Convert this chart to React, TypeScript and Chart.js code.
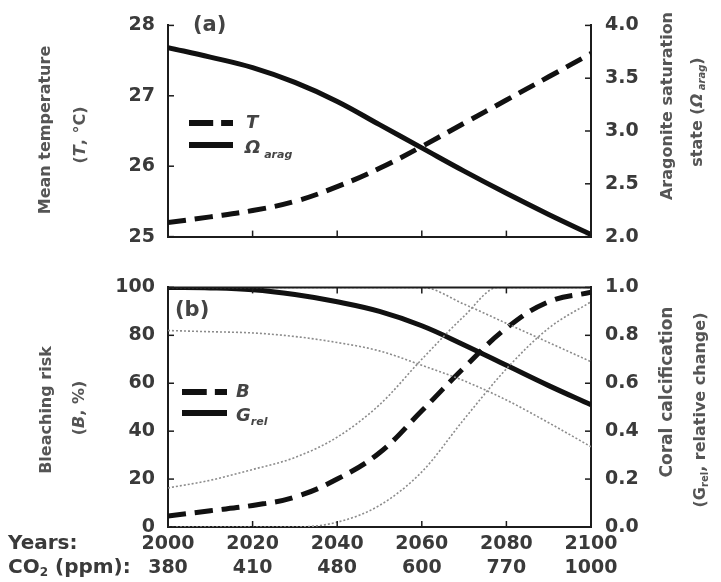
import { useEffect, useRef } from 'react';
import { Chart, registerables } from 'chart.js';

Chart.register(...registerables);

// ---------------- data ----------------
const years = [2000, 2010, 2020, 2030, 2040, 2050, 2060, 2070, 2080, 2090, 2100];
const temperature = [25.2, 25.28, 25.37, 25.5, 25.71, 25.97, 26.28, 26.61, 26.94, 27.27, 27.6];
const aragonite = [3.79, 3.7, 3.6, 3.46, 3.28, 3.06, 2.84, 2.62, 2.41, 2.21, 2.02];

const bleaching = [4.6, 6.8, 9, 12.5, 20, 31, 48.5, 66.5, 83, 94, 98];
const calcification = [1.0, 0.998, 0.99, 0.97, 0.94, 0.9, 0.84, 0.76, 0.675, 0.59, 0.51];

const bleachUpperYears = [2000, 2010, 2020, 2030, 2040, 2050, 2060, 2070, 2078, 2090, 2100];
const bleachUpper = [16.3, 19.5, 24, 29, 37.5, 51, 70, 88, 100, 100, 100];
const bleachLowerYears = [2000, 2020, 2030, 2040, 2050, 2060, 2070, 2080, 2090, 2100];
const bleachLower = [0, 0, 0, 2, 9, 23, 45, 66, 83, 94];
const calcUpperYears = [2000, 2030, 2060, 2070, 2080, 2090, 2100];
const calcUpper = [1.0, 1.0, 1.0, 0.93, 0.85, 0.77, 0.69];
const calcLower = [0.82, 0.815, 0.81, 0.795, 0.77, 0.735, 0.675, 0.61, 0.53, 0.435, 0.335];

const yearTicks = [2000, 2020, 2040, 2060, 2080, 2100];
const co2Ticks = [380, 410, 480, 600, 770, 1000];

// ---------------- styling helpers ----------------
const FONT = '"DejaVu Sans", "Liberation Sans", sans-serif';
const TICK_COLOR = '#3a3a3a';
const TITLE_COLOR = '#555555';
const LINE = '#111111';
const THIN = '#8c8c8c';
const AXIS = '#1c1c1c';

type Seg = { t: string; size: number; italic?: boolean; dy?: number };

function segFont(s: Seg) {
  return `${s.italic ? 'italic ' : ''}bold ${s.size}px ${FONT}`;
}

function drawRich(
  ctx: CanvasRenderingContext2D,
  segs: Seg[],
  cx: number,
  cy: number,
  rot: number,
  color: string,
  align: 'center' | 'left' = 'center'
) {
  ctx.save();
  ctx.translate(cx, cy);
  if (rot) ctx.rotate(rot);
  ctx.fillStyle = color;
  ctx.textBaseline = 'middle';
  ctx.textAlign = 'left';
  let w = 0;
  const ws = segs.map((s) => {
    ctx.font = segFont(s);
    const m = ctx.measureText(s.t).width;
    w += m;
    return m;
  });
  let x = align === 'center' ? -w / 2 : 0;
  segs.forEach((s, i) => {
    ctx.font = segFont(s);
    ctx.fillText(s.t, x, s.dy || 0);
    x += ws[i];
  });
  ctx.restore();
}

function line(ctx: CanvasRenderingContext2D, x1: number, y1: number, x2: number, y2: number) {
  ctx.beginPath();
  ctx.moveTo(x1, y1);
  ctx.lineTo(x2, y2);
  ctx.stroke();
}

const inwardTicks = {
  id: 'inwardTicks',
  afterDraw(chart: any, _args: any, opts: any) {
    const ctx = chart.ctx as CanvasRenderingContext2D;
    const a = chart.chartArea;
    const L = 6;
    ctx.save();
    ctx.strokeStyle = AXIS;
    ctx.lineWidth = 1.5;
    const xs = chart.scales.x;
    xs.ticks.forEach((t: any) => {
      const px = xs.getPixelForValue(t.value);
      line(ctx, px, a.bottom, px, a.bottom - L);
      if (opts && opts.top) line(ctx, px, a.top, px, a.top + L);
    });
    const yl = chart.scales.y;
    yl.ticks.forEach((t: any) => {
      const py = yl.getPixelForValue(t.value);
      line(ctx, a.left, py, a.left + L, py);
    });
    const yr = chart.scales.y1;
    yr.ticks.forEach((t: any) => {
      const py = yr.getPixelForValue(t.value);
      line(ctx, a.right, py, a.right - L, py);
    });
    if (opts && opts.top) {
      ctx.lineWidth = 2;
      line(ctx, a.left - 1, a.top, a.right + 1, a.top);
    }
    ctx.restore();
  },
};

function makeDecor(draw: (ctx: CanvasRenderingContext2D, chart: any) => void) {
  return {
    id: 'decor',
    afterDraw(chart: any) {
      draw(chart.ctx, chart);
    },
  };
}

function legendLines(ctx: CanvasRenderingContext2D, x1: number, x2: number, yDash: number, ySolid: number) {
  ctx.save();
  ctx.strokeStyle = LINE;
  ctx.lineWidth = 6;
  ctx.lineCap = 'butt';
  const len = x2 - x1;
  line(ctx, x1, yDash, x1 + len * 0.55, yDash);
  line(ctx, x1 + len * 0.73, yDash, x2, yDash);
  line(ctx, x1, ySolid, x2, ySolid);
  ctx.restore();
}

const pts = (xs: number[], ys: number[]) => xs.map((x, i) => ({ x, y: ys[i] }));

function yAxis(min: number, max: number, step: number, pos: 'left' | 'right', width: number, fmt?: (v: number) => string, pad = 13) {
  return {
    type: 'linear',
    position: pos,
    min,
    max,
    grid: { display: true, drawOnChartArea: false, drawTicks: false },
    border: { display: true, color: AXIS, width: 2 },
    ticks: {
      stepSize: step,
      padding: pad,
      color: TICK_COLOR,
      font: { family: FONT, size: 19, weight: 'bold' },
      callback: fmt ? (v: any) => fmt(Number(v)) : (v: any) => String(v),
    },
    afterFit: (s: any) => {
      s.width = width;
    },
  };
}

const mainLine = (data: any[], axis: string, dashed: boolean) => ({
  data,
  yAxisID: axis,
  borderColor: LINE,
  borderWidth: 5,
  borderDash: dashed ? [18, 9] : [],
  pointRadius: 0,
  tension: 0.4,
});

const thinLine = (data: any[], axis: string) => ({
  data,
  yAxisID: axis,
  borderColor: THIN,
  borderWidth: 1.6,
  borderDash: [2, 2],
  pointRadius: 0,
  cubicInterpolationMode: 'monotone',
});

export default function App() {
  const topRef = useRef<HTMLCanvasElement>(null);
  const botRef = useRef<HTMLCanvasElement>(null);

  useEffect(() => {
    const topDecor = makeDecor((ctx) => {
      drawRich(ctx, [{ t: '(a)', size: 21 }], 193, 26, 0, '#444', 'left');
      drawRich(ctx, [{ t: 'Mean temperature', size: 16 }], 46, 130, -Math.PI / 2, TITLE_COLOR);
      drawRich(
        ctx,
        [
          { t: '(', size: 16 },
          { t: 'T', size: 16, italic: true },
          { t: ', °C)', size: 16 },
        ],
        81,
        135,
        -Math.PI / 2,
        TITLE_COLOR
      );
      drawRich(ctx, [{ t: 'Aragonite saturation', size: 16 }], 668, 106, -Math.PI / 2, TITLE_COLOR);
      drawRich(
        ctx,
        [
          { t: 'state (', size: 16 },
          { t: 'Ω', size: 16, italic: true },
          { t: ' arag', size: 10, italic: true, dy: 4 },
          { t: ')', size: 16 },
        ],
        698,
        112,
        -Math.PI / 2,
        TITLE_COLOR
      );
      legendLines(ctx, 189, 233, 123, 145);
      drawRich(ctx, [{ t: 'T', size: 18, italic: true }], 246, 123, 0, '#444', 'left');
      drawRich(
        ctx,
        [
          { t: 'Ω', size: 18, italic: true },
          { t: ' arag', size: 11, italic: true, dy: 7 },
        ],
        245,
        148,
        0,
        '#444',
        'left'
      );
    });

    const top = new Chart(topRef.current as HTMLCanvasElement, {
      type: 'line',
      data: {
        datasets: [
          { label: 'T', ...mainLine(pts(years, temperature), 'y', true) },
          { label: 'Ωarag', ...mainLine(pts(years, aragonite), 'y1', false) },
        ],
      },
      options: {
        responsive: true,
        maintainAspectRatio: false,
        animation: false,
        layout: { padding: { top: 21, left: 0, right: 0, bottom: 0 } },
        plugins: { legend: { display: false }, tooltip: { enabled: false }, inwardTicks: { top: false } } as any,
        scales: {
          x: {
            type: 'linear',
            min: 2000,
            max: 2100,
            grid: { display: true, drawOnChartArea: false, drawTicks: false },
            border: { display: true, color: AXIS, width: 2 },
            ticks: { stepSize: 20, display: false },
            afterFit: (s: any) => {
              s.height = 23;
            },
          },
          y: yAxis(25, 28, 1, 'left', 168),
          y1: yAxis(2, 4, 0.5, 'right', 130, (v) => v.toFixed(1), 14),
        } as any,
      },
      plugins: [inwardTicks, topDecor],
    } as any);

    const OFF = 262;
    const botDecor = makeDecor((ctx) => {
      drawRich(ctx, [{ t: '(b)', size: 21 }], 175, 311 - OFF, 0, '#444', 'left');
      drawRich(ctx, [{ t: 'Bleaching risk', size: 16 }], 47, 410 - OFF, -Math.PI / 2, TITLE_COLOR);
      drawRich(
        ctx,
        [
          { t: '(', size: 16 },
          { t: 'B', size: 16, italic: true },
          { t: ', %)', size: 16 },
        ],
        80,
        408 - OFF,
        -Math.PI / 2,
        TITLE_COLOR
      );
      drawRich(ctx, [{ t: 'Coral calcification', size: 17 }], 668, 392 - OFF, -Math.PI / 2, TITLE_COLOR);
      drawRich(
        ctx,
        [
          { t: '(G', size: 16 },
          { t: 'rel', size: 10, dy: 4 },
          { t: ', relative change)', size: 16 },
        ],
        701,
        410 - OFF,
        -Math.PI / 2,
        TITLE_COLOR
      );
      legendLines(ctx, 182, 227, 392 - OFF, 413 - OFF);
      drawRich(ctx, [{ t: 'B', size: 18, italic: true }], 236, 392 - OFF, 0, '#444', 'left');
      drawRich(
        ctx,
        [
          { t: 'G', size: 18, italic: true },
          { t: 'rel', size: 11, italic: true, dy: 6 },
        ],
        236,
        416 - OFF,
        0,
        '#444',
        'left'
      );
      drawRich(ctx, [{ t: 'Years:', size: 20 }], 8, 544 - OFF, 0, TICK_COLOR, 'left');
      drawRich(
        ctx,
        [
          { t: 'CO', size: 20 },
          { t: '2', size: 12, dy: 5 },
          { t: ' (ppm):', size: 20 },
        ],
        8,
        568 - OFF,
        0,
        TICK_COLOR,
        'left'
      );
    });

    const bot = new Chart(botRef.current as HTMLCanvasElement, {
      type: 'line',
      data: {
        datasets: [
          thinLine(pts(bleachUpperYears, bleachUpper), 'y'),
          thinLine(pts(bleachLowerYears, bleachLower), 'y'),
          thinLine(pts(calcUpperYears, calcUpper), 'y1'),
          thinLine(pts(years, calcLower), 'y1'),
          { label: 'B', ...mainLine(pts(years, bleaching), 'y', true) },
          { label: 'Grel', ...mainLine(pts(years, calcification), 'y1', false) },
        ],
      },
      options: {
        responsive: true,
        maintainAspectRatio: false,
        animation: false,
        layout: { padding: { top: 25, left: 0, right: 0, bottom: 0 } },
        plugins: { legend: { display: false }, tooltip: { enabled: false }, inwardTicks: { top: true } } as any,
        scales: {
          x: {
            type: 'linear',
            min: 2000,
            max: 2100,
            grid: { display: true, drawOnChartArea: false, drawTicks: false },
            border: { display: true, color: AXIS, width: 2 },
            ticks: {
              stepSize: 20,
              autoSkip: false,
              maxRotation: 0,
              padding: 5,
              color: TICK_COLOR,
              font: { family: FONT, size: 19, weight: 'bold', lineHeight: 1.25 },
              callback: (v: any) => {
                const i = yearTicks.indexOf(Number(v));
                return i >= 0 ? [String(yearTicks[i]), String(co2Ticks[i])] : '';
              },
            },
            afterFit: (s: any) => {
              s.height = 55;
            },
          },
          y: yAxis(0, 100, 20, 'left', 168),
          y1: yAxis(0, 1, 0.2, 'right', 130, (v) => v.toFixed(1), 14),
        } as any,
      },
      plugins: [inwardTicks, botDecor],
    } as any);

    return () => {
      top.destroy();
      bot.destroy();
    };
  }, []);

  return (
    <div style={{ position: 'absolute', left: 0, top: 0, width: 721, height: 582, background: '#fff' }}>
      <div style={{ position: 'absolute', left: 0, top: 0, width: 721, height: 262 }}>
        <canvas ref={topRef} />
      </div>
      <div style={{ position: 'absolute', left: 0, top: 262, width: 721, height: 320 }}>
        <canvas ref={botRef} />
      </div>
    </div>
  );
}
